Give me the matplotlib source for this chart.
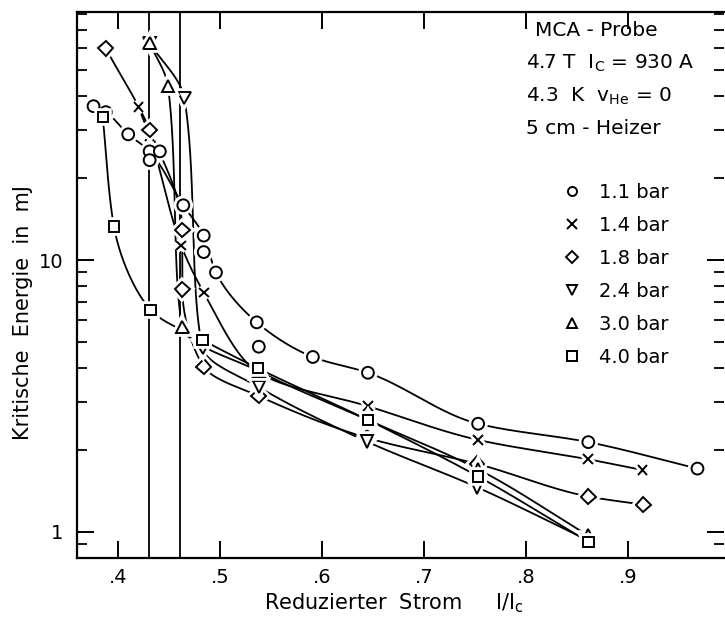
import numpy as np
import matplotlib
matplotlib.use("Agg")
import matplotlib.pyplot as plt
import matplotlib.patheffects as pe
from matplotlib.ticker import FixedLocator, FixedFormatter, NullFormatter

plt.rcParams["font.family"] = ["DejaVu Sans"]
plt.rcParams["mathtext.fontset"] = "dejavusans"

# ---- measured critical energies (mJ) vs reduced current I/Ic ----
x_11 = [0.376, 0.388, 0.410, 0.431, 0.431, 0.441, 0.464, 0.484, 0.484, 0.496, 0.536, 0.538, 0.591, 0.645, 0.753, 0.861, 0.968]
e_11 = [36.8, 35.0, 29.0, 25.1, 23.3, 25.1, 15.9, 12.3, 10.7, 9.0, 5.9, 4.8, 4.4, 3.85, 2.5, 2.14, 1.71]
fit_11 = [0, 1, 2, 3, 6, 7, 9, 10, 12, 13, 14, 15, 16]

x_14 = [0.420, 0.431, 0.462, 0.484, 0.538, 0.645, 0.753, 0.861, 0.914]
e_14 = [36.5, 28.6, 11.3, 7.6, 3.85, 2.90, 2.18, 1.85, 1.69]
fit_14 = [0, 1, 2, 3, 4, 5, 6, 7, 8]

x_18 = [0.388, 0.431, 0.463, 0.463, 0.484, 0.538, 0.644, 0.752, 0.861, 0.915]
e_18 = [60.0, 30.1, 12.9, 7.8, 4.05, 3.16, 2.22, 1.78, 1.35, 1.26]
fit_18 = [0, 1, 2, 3, 4, 5, 6, 7, 8, 9]

x_24 = [0.431, 0.465, 0.483, 0.538, 0.644, 0.752, 0.861]
e_24 = [62.8, 39.4, 4.74, 3.41, 2.15, 1.46, 0.93]
fit_24 = [0, 1, 2, 3, 4, 5, 6]

x_30 = [0.431, 0.449, 0.463, 0.538, 0.645, 0.753, 0.861]
e_30 = [62.8, 43.6, 5.68, 3.9, 2.58, 1.70, 0.97]
fit_30 = [0, 1, 2, 3, 4, 5, 6]

x_40 = [0.385, 0.396, 0.432, 0.483, 0.537, 0.645, 0.753, 0.861]
e_40 = [33.6, 13.3, 6.55, 5.08, 4.0, 2.58, 1.60, 0.92]
fit_40 = [0, 1, 2, 3, 4, 5, 6, 7]

pressures = ["1.1 bar", "1.4 bar", "1.8 bar", "2.4 bar", "3.0 bar", "4.0 bar"]
limit_currents = [0.430, 0.461]

xticks = [0.4, 0.5, 0.6, 0.7, 0.8, 0.9]
xticklabels = [".4", ".5", ".6", ".7", ".8", ".9"]
yticks_major = [1, 10]
yticklabels = ["1", "10"]
yticks_minor = [0.9, 2, 3, 4, 5, 6, 7, 8, 9, 20, 30, 40, 50, 60, 70, 80]

info_lines = ["MCA - Probe",
              r"4.7 T  I$_\mathrm{C}$ = 930 A",
              r"4.3  K  v$_\mathrm{He}$ = 0",
              "5 cm - Heizer"]

W, H = 725, 622
fig = plt.figure(figsize=(W / 100, H / 100), dpi=100)
L, R, T, B = 77, 724, 12, 558
ax = fig.add_axes([L / W, 1 - B / H, (R - L) / W, (B - T) / H])
ax.set_yscale("log")
ax.set_xlim(0.3598, 0.994)
ax.set_ylim(0.802, 81.7)


def _pchip_slopes(s, f):
    h = np.diff(s)
    d = np.diff(f) / h
    m = np.zeros_like(f)
    for k in range(1, len(f) - 1):
        if d[k - 1] * d[k] > 0:
            w1 = 2 * h[k] + h[k - 1]
            w2 = h[k] + 2 * h[k - 1]
            m[k] = (w1 + w2) / (w1 / d[k - 1] + w2 / d[k])
    m[0] = d[0]
    m[-1] = d[-1]
    return m


def _hermite(s, f, m, sn):
    out = np.empty_like(sn)
    idx = np.clip(np.searchsorted(s, sn, side="right") - 1, 0, len(s) - 2)
    for j, (t, k) in enumerate(zip(sn, idx)):
        h = s[k + 1] - s[k]
        u = (t - s[k]) / h
        h00 = 2 * u**3 - 3 * u**2 + 1
        h10 = u**3 - 2 * u**2 + u
        h01 = -2 * u**3 + 3 * u**2
        h11 = u**3 - u**2
        out[j] = h00 * f[k] + h10 * h * m[k] + h01 * f[k + 1] + h11 * h * m[k + 1]
    return out


def smooth_curve(xs, ys, n=400):
    """Shape-preserving parametric spline through points in (x, log y) space."""
    u = (np.asarray(xs, float) - 0.36) / 0.634 * 647
    v = np.log10(np.asarray(ys, float)) * 272
    s = np.concatenate([[0], np.cumsum(np.hypot(np.diff(u), np.diff(v)))])
    sn = np.linspace(0, s[-1], n)
    cu = _hermite(s, u, _pchip_slopes(s, u), sn)
    cv = _hermite(s, v, _pchip_slopes(s, v), sn)
    return cu / 647 * 0.634 + 0.36, 10 ** (cv / 272)


series = [
    (x_11, e_11, fit_11, "o", 8.5),
    (x_14, e_14, fit_14, "x", 7.0),
    (x_18, e_18, fit_18, "D", 7.5),
    (x_24, e_24, fit_24, "v", 9.0),
    (x_30, e_30, fit_30, "^", 9.0),
    (x_40, e_40, fit_40, "s", 7.5),
]

for xv in limit_currents:
    ax.axvline(xv, color="black", lw=1.3, zorder=1)

halo = [pe.Stroke(linewidth=5.5, foreground="white"), pe.Normal()]
handles = []
for (xs, es, fit, mk, ms), lab in zip(series, pressures):
    cx, cy = smooth_curve([xs[i] for i in fit], [es[i] for i in fit])
    ax.plot(cx, cy, color="black", lw=1.3, zorder=2)
for (xs, es, fit, mk, ms), lab in zip(series, pressures):
    h, = ax.plot(xs, es, linestyle="none", marker=mk, ms=ms, mfc="white",
                 mec="black", mew=1.4, zorder=3, label=lab, path_effects=halo)
    handles.append(h)

# axes styling
for s in ["left", "bottom", "top"]:
    ax.spines[s].set_linewidth(1.6)
ax.spines["right"].set_visible(False)

ax.xaxis.set_major_locator(FixedLocator(xticks))
ax.xaxis.set_major_formatter(FixedFormatter(xticklabels))
ax.xaxis.set_minor_locator(FixedLocator([]))
ax.yaxis.set_major_locator(FixedLocator(yticks_major))
ax.yaxis.set_major_formatter(FixedFormatter(yticklabels))
ax.yaxis.set_minor_locator(FixedLocator(yticks_minor))
ax.yaxis.set_minor_formatter(NullFormatter())
ax.tick_params(axis="both", which="major", direction="in", length=12, width=1.4,
               labelsize=14, top=True, right=True, pad=7)
ax.tick_params(axis="y", which="minor", direction="in", length=7.5, width=1.3, right=True)
ax.tick_params(axis="y", which="major", pad=10)

ax.set_xlabel(r"Reduzierter  Strom     I/I$_\mathrm{c}$", fontsize=15)
ax.xaxis.set_label_coords(0.49, -0.062)
ax.set_ylabel("Kritische  Energie  in  mJ", fontsize=15)
ax.yaxis.set_label_coords(-0.068, 0.45)

# annotation block
info_y = [31, 63, 96, 129]
info_x = [535, 526, 526, 526]
for txt, xp, yp in zip(info_lines, info_x, info_y):
    fig.text(xp / W, 1 - yp / H, txt, fontsize=14.5, ha="left", va="center")

leg_handles = [plt.Line2D([], [], linestyle="none", marker=h.get_marker(), ms=6.5,
                          mfc="white", mec="black", mew=1.4) for h in handles]
ax.legend(leg_handles, pressures, loc="upper left", frameon=False,
          bbox_to_anchor=(562 / W, 1 - 183 / H), bbox_transform=fig.transFigure,
          fontsize=14, handlelength=1.0, handletextpad=0.9, labelspacing=0.72,
          borderpad=0, borderaxespad=0)

fig.savefig("out.png", dpi=100, facecolor="white")
